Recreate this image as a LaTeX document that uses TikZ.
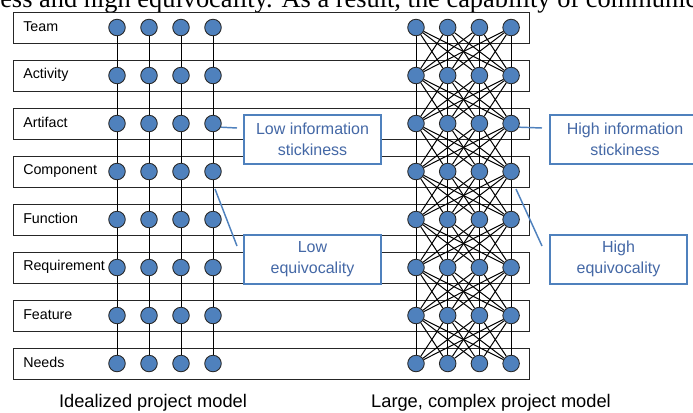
\documentclass[tikz,border=0pt]{standalone}
\usepackage{fontspec}
\setmainfont{Liberation Sans}
\newfontfamily\pageserif{Liberation Serif}
\usepackage{xcolor}
\usepackage{tikz}
\usetikzlibrary{positioning}
\definecolor{dotBlue}{RGB}{79,129,189}
\definecolor{dotRim}{RGB}{40,40,40}
\definecolor{calloutBlue}{RGB}{79,129,189}
\definecolor{calloutText}{RGB}{68,104,166}

\begin{document}
\begin{tikzpicture}[x=0.75pt,y=-0.75pt,
    layerbox/.style={draw=black!85, line width=0.75pt, minimum width=387pt, minimum height=23.25pt, inner sep=0pt},
    layerlabel/.style={anchor=west, inner sep=0pt, font=\fontsize{10.7}{12}\selectfont},
    dot/.style={circle, fill=dotBlue, draw=dotRim, line width=0.65pt, minimum size=12.4pt, inner sep=0pt},
    link/.style={black, line width=0.75pt},
    callout/.style={draw=calloutBlue, fill=white, line width=1.5pt, minimum width=102.75pt, minimum height=36.75pt,
        align=center, text=calloutText, font=\fontsize{12}{15.5}\selectfont},
    pointer/.style={calloutBlue, line width=1.1pt},
    caption/.style={font=\fontsize{13.7}{15}\selectfont}]
    \useasboundingbox (0,0) rectangle (693,412);

    % cut-off page text above the figure
    \node[anchor=base west, inner sep=0pt, font=\pageserif\fontsize{19.8}{22}\selectfont] (pagetext) at (0,7.5)
        {ess and high equivocality. As a result, the capability of communica};

    % layers, labels and elements
    \foreach \lab [count=\i] in {Team,Activity,Artifact,Component,Function,Requirement,Feature,Needs} {
        \node[layerbox] (row\i) at (271,{27.5+(\i-1)*48}) {};
        \node[layerlabel] (lab\i) at (23,{26.5+(\i-1)*48}) {\lab};
        \foreach \j in {1,...,4} {
            \node[dot] (l\i-\j) at ({117+(\j-1)*32},{27.5+(\i-1)*48}) {};
            \node[dot] (h\i-\j) at ({416+(\j-1)*31.7},{27.5+(\i-1)*48}) {};
        }
    }

    % dependencies between adjacent layers
    \foreach \i [evaluate=\i as \n using int(\i+1)] in {1,...,7} {
        \foreach \j in {1,...,4} {
            \draw[link] (l\i-\j) -- (l\n-\j);
            \foreach \k in {1,...,4}
                \draw[link] (h\i-\j) -- (h\n-\k);
        }
    }

    % callouts
    \node[callout] (lowinfo) at (312.5,139.5) {Low information\\stickiness};
    \node[callout, minimum width=112.5pt] (highinfo) at (625,139.5) {High information\\stickiness};
    \node[callout] (loweq) at (312.5,259) {Low\\equivocality};
    \node[callout] (higheq) at (618.5,259) {High\\equivocality};

    % pointers
    \coordinate (lowinfoTip) at (237,128);
    \coordinate (highinfoTip) at (542,128);
    \coordinate (loweqFrom) at (215,189);
    \coordinate (loweqTip) at (237,246);
    \coordinate (higheqFrom) at (516,189);
    \coordinate (higheqTip) at (542,246);
    \draw[pointer] (l3-4.-25) -- (lowinfoTip);
    \draw[pointer] (h3-4.-25) -- (highinfoTip);
    \draw[pointer] (loweqFrom) -- (loweqTip);
    \draw[pointer] (higheqFrom) -- (higheqTip);

    % captions
    \node[caption] (capIdeal) at (153,403) {Idealized project model};
    \node[caption] (capLarge) at (491,403) {Large, complex project model};
\end{tikzpicture}
\end{document}
